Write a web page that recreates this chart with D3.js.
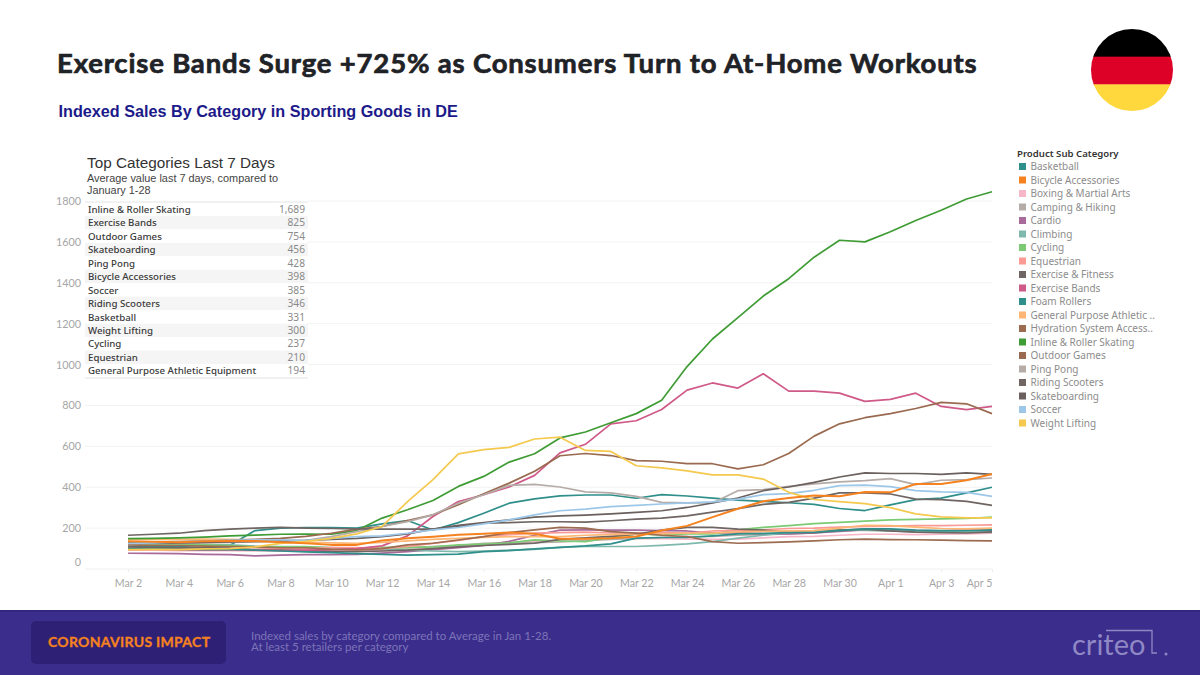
<!DOCTYPE html>
<html><head><meta charset="utf-8">
<script src="https://cdn.jsdelivr.net/npm/d3@7"></script>
<style>
html,body{margin:0;padding:0;background:#fff}
svg{display:block}
text{font-family:"Lato",sans-serif}
</style></head><body>
<svg id="c" width="1200" height="675"></svg>
<script>
const startDate = "2020-03-02";
const yTicks = [0,200,400,600,800,1000,1200,1400,1600,1800];
const xTickDays = ["2020-03-02","2020-03-04","2020-03-06","2020-03-08","2020-03-10","2020-03-12","2020-03-14","2020-03-16","2020-03-18","2020-03-20","2020-03-22","2020-03-24","2020-03-26","2020-03-28","2020-03-30","2020-04-01","2020-04-03","2020-04-05"];

const categories = ["Basketball","Bicycle Accessories","Boxing & Martial Arts","Camping & Hiking","Cardio","Climbing","Cycling","Equestrian","Exercise & Fitness","Exercise Bands","Foam Rollers","General Purpose Athletic ..","Hydration System Access..","Inline & Roller Skating","Outdoor Games","Ping Pong","Riding Scooters","Skateboarding","Soccer","Weight Lifting"];
const colors = ["#2f8f8a","#f5821f","#f7b6c8","#b5aca8","#a86a9b","#7fb8ac","#7ccb74","#fb9a94","#6f6563","#cf5a88","#2f8f8a","#fdb674","#9c6b50","#3f9c35","#9a6a50","#b5aca8","#6f6563","#6a605e","#9dc7e8","#f4c94e"];

const basketball = [110,108,110,105,115,188,200,203,203,200,221,237,191,227,273,322,343,358,362,362,346,364,357,347,337,331,324,316,296,286,314,339,347,372,400];
const bicycle = [136,133,131,136,137,137,131,126,118,118,139,150,158,167,172,178,172,148,148,151,159,188,211,254,295,331,347,359,356,377,375,416,416,434,465];
const boxing = [92,92,90,90,90,88,90,90,88,88,90,95,100,112,122,130,135,140,146,148,150,148,146,145,146,152,158,160,165,170,170,168,170,172,175];
const camping = [100,102,100,98,98,96,100,104,100,100,102,105,110,115,125,128,129,132,139,145,150,154,158,160,165,168,172,176,186,190,186,182,180,180,178];
const cardio = [77,76,75,72,70,64,68,70,70,72,78,85,95,105,115,135,165,190,191,190,190,188,186,176,178,172,172,176,184,192,190,188,186,190,190];
const climbing = [120,118,120,118,118,112,110,108,105,102,98,92,88,85,88,92,96,106,110,110,110,116,123,134,151,165,178,188,192,190,186,184,182,180,183];
const cycling = [125,122,120,118,115,108,108,110,104,102,106,105,108,118,122,128,142,137,134,155,172,167,172,172,191,204,212,222,228,234,240,243,245,247,254];
const equestrian = [95,95,92,92,94,96,100,100,105,105,100,110,125,140,158,168,175,178,180,176,175,178,175,186,188,192,198,200,205,208,210,212,212,214,216];
const fitness = [108,105,104,104,102,92,92,90,86,85,88,92,100,108,115,120,126,145,152,160,170,190,204,204,195,190,180,178,190,195,186,180,178,176,182];
const bands = [100,98,97,95,96,93,90,92,95,100,113,162,257,330,363,401,458,568,610,710,725,780,875,910,885,955,870,870,860,820,830,860,795,780,795];
const foam = [100,98,96,95,96,92,88,84,80,75,72,68,70,73,85,90,98,106,113,123,151,154,154,162,172,174,178,180,188,196,196,190,188,188,191];
const generalPurpose = [145,146,145,146,145,142,138,132,128,125,130,138,145,150,155,158,158,158,165,168,172,172,176,176,182,184,186,188,200,214,212,205,198,196,200];
const hydration = [118,116,115,112,110,108,104,104,96,94,100,118,126,142,158,178,191,204,200,183,175,165,159,134,126,129,133,138,143,146,144,143,141,139,138];
const inline = [149,150,152,156,162,166,170,171,170,188,249,290,335,404,453,523,564,641,670,715,760,825,990,1125,1230,1335,1420,1525,1608,1600,1650,1705,1755,1810,1845];
const outdoor = [132,133,134,136,140,145,150,160,175,195,208,237,265,314,368,420,478,554,565,555,530,527,515,515,490,510,565,650,710,740,760,785,815,808,760];
const pingpong = [125,125,125,128,130,132,135,140,158,183,208,232,265,322,363,409,414,401,377,372,355,326,323,323,383,388,404,416,426,432,442,413,434,437,445];
const scooters = [165,170,175,188,195,200,204,200,198,196,195,195,195,208,224,227,231,231,229,236,244,249,260,278,295,316,326,347,372,372,367,342,339,331,311];
const skate = [128,126,128,130,132,135,138,140,145,150,158,172,195,213,227,240,254,260,264,270,277,285,301,323,347,383,401,424,450,470,467,467,463,470,463];
const soccer = [125,128,132,138,140,142,142,140,150,158,162,175,191,203,221,240,265,285,293,305,311,318,323,328,342,364,369,385,408,410,403,383,377,375,355];
const weight = [95,96,95,98,100,108,125,135,150,172,208,330,437,563,584,595,636,645,580,575,505,495,480,460,460,440,375,340,330,320,300,270,255,250,250];
const seriesValues = [basketball,bicycle,boxing,camping,cardio,climbing,cycling,equestrian,fitness,bands,foam,generalPurpose,hydration,inline,outdoor,pingpong,scooters,skate,soccer,weight];

const tableNames = ["Inline & Roller Skating","Exercise Bands","Outdoor Games","Skateboarding","Ping Pong","Bicycle Accessories","Soccer","Riding Scooters","Basketball","Weight Lifting","Cycling","Equestrian","General Purpose Athletic Equipment"];
const tableValues = ["1,689","825","754","456","428","398","385","346","331","300","237","210","194"];

const flagColors = ["#000000","#dd0027","#ffd83d"];

const svg = d3.select("#c");
const parse = d3.timeParse("%Y-%m-%d");
const fmt = d3.timeFormat("%b %-d");
const t0 = parse(startDate);
const dateOf = i => d3.timeDay.offset(t0,i);
const x = d3.scaleTime().domain([t0,dateOf(34)]).range([128,992]);
const y = d3.scaleLinear().domain([0,1800]).range([569,201]);

// title
svg.append("text").attr("x",57).attr("y",73).attr("font-size",27.5).attr("font-weight",700)
  .attr("fill","#1f2226").attr("stroke","#1f2226").attr("stroke-width",0.7)
  .style("font-family","Lato").style("letter-spacing","0.82px")
  .text("Exercise Bands Surge +725% as Consumers Turn to At-Home Workouts");
svg.append("text").attr("x",58.5).attr("y",117).attr("font-size",16.2).attr("font-weight",700)
  .attr("fill","#1c1a8a").style("font-family","Liberation Sans")
  .text("Indexed Sales By Category in Sporting Goods in DE");

// flag
const defs = svg.append("defs");
defs.append("clipPath").attr("id","fc").append("circle").attr("cx",1132).attr("cy",70).attr("r",41);
const flagY = d3.scaleBand().domain(flagColors).range([29,112]);
svg.append("g").attr("clip-path","url(#fc)").selectAll("rect").data(flagColors).join("rect")
  .attr("x",1091).attr("width",82).attr("y",d=>flagY(d)).attr("height",flagY.bandwidth()+0.5).attr("fill",d=>d);

// grid
svg.append("g").selectAll("line").data(yTicks.slice(1)).join("line")
  .attr("x1",85).attr("x2",992).attr("y1",d=>y(d)).attr("y2",d=>y(d)).attr("stroke","#f2f2f2");

// y axis
const yAxis = d3.axisLeft(y).tickValues(yTicks).tickSize(0).tickPadding(0).tickFormat(d3.format("d"));
const gy = svg.append("g").attr("transform","translate(81,0)").call(yAxis);
gy.select(".domain").remove();
gy.selectAll("text").attr("fill","#a6a6a6").attr("font-size",10.8).style("font-family","Lato")
  .attr("dy",d=>d===0?"-0.32em":"0.32em");

// x axis
const xAxis = d3.axisBottom(x).tickValues(xTickDays.map(parse)).tickSize(3).tickPadding(7).tickFormat(fmt);
const gx = svg.append("g").attr("transform","translate(0,569)").call(xAxis);
gx.select(".domain").attr("stroke","#eeeeee").attr("d","M85,0H992");
gx.selectAll("line").attr("stroke","#eeeeee");
gx.selectAll("text").attr("fill","#a6a6a6").attr("font-size",10.6).style("font-family","Lato")
  .attr("dx",(d,i)=>i===xTickDays.length-1?-13:0);

// lines
const line = d3.line().x((d,i)=>x(dateOf(i))).y(d=>y(d)).curve(d3.curveLinear);
const paths = svg.append("g").attr("fill","none").selectAll("path").data(seriesValues).join("path")
  .attr("d",line).attr("stroke",(d,i)=>colors[i]).attr("stroke-width",1.7).attr("stroke-linejoin","round");
paths.filter((d,i)=>categories[i]==="Bicycle Accessories").attr("stroke-width",2).raise();

// table
const tableG = svg.append("g");
tableG.append("rect").attr("x",85).attr("y",145).attr("width",223).attr("height",233).attr("fill","#fff");
tableG.append("text").attr("x",87).attr("y",168).attr("font-size",15.3).attr("fill","#333").style("font-family","Liberation Sans").text("Top Categories Last 7 Days");
tableG.append("text").attr("x",87).attr("y",182).attr("font-size",10.9).attr("fill","#444").style("font-family","Liberation Sans").text("Average value last 7 days, compared to");
tableG.append("text").attr("x",87).attr("y",194).attr("font-size",10.9).attr("fill","#444").style("font-family","Liberation Sans").text("January 1-28");
const rowY = d3.scaleBand().domain(tableNames).range([202.5,377.5]);
tableG.selectAll(".bg").data(tableNames).join("rect").attr("class","bg")
  .attr("x",85).attr("width",223).attr("y",d=>rowY(d)).attr("height",rowY.bandwidth())
  .attr("fill",(d,i)=>i%2?"#f5f5f5":"#fff");
tableG.append("line").attr("x1",85).attr("x2",308).attr("y1",202).attr("y2",202).attr("stroke","#e4e4e4");
tableG.append("line").attr("x1",85).attr("x2",308).attr("y1",378).attr("y2",378).attr("stroke","#e4e4e4");
tableG.selectAll(".nm").data(tableNames).join("text").attr("class","nm")
  .attr("x",88).attr("y",d=>rowY(d)+rowY.bandwidth()/2+3.6).attr("font-size",9.7).attr("font-weight",500)
  .attr("fill","#3a3a3a").style("font-family","Noto Sans").text(d=>d);
tableG.selectAll(".vl").data(tableValues).join("text").attr("class","vl")
  .attr("x",305).attr("text-anchor","end").attr("y",(d,i)=>rowY(tableNames[i])+rowY.bandwidth()/2+3.6)
  .attr("font-size",10.2).attr("fill","#8a8a8a").style("font-family","Noto Sans").text(d=>d);

// legend
const lg = svg.append("g");
lg.append("text").attr("x",1017).attr("y",157).attr("font-size",9.6).attr("font-weight",600).attr("fill","#333").style("font-family","Noto Sans").text("Product Sub Category");
const legY = d3.scaleBand().domain(categories).range([160,430]);
lg.selectAll("rect").data(categories).join("rect")
  .attr("x",1019).attr("width",7).attr("height",7).attr("y",d=>legY(d)+3).attr("fill",(d,i)=>colors[i]);
lg.selectAll(".lt").data(categories).join("text").attr("class","lt")
  .attr("x",1030.5).attr("y",d=>legY(d)+10.2).attr("font-size",10).attr("fill","#8c8c8c").style("font-family","Noto Sans").text(d=>d);

// footer
svg.append("rect").attr("x",0).attr("y",610).attr("width",1200).attr("height",65).attr("fill","#3a2d8c");
svg.append("rect").attr("x",0).attr("y",610).attr("width",1200).attr("height",1.5).attr("fill","#31257d");
svg.append("rect").attr("x",31).attr("y",621).attr("width",195).attr("height",43).attr("rx",5).attr("fill","#2e2075");
svg.append("text").attr("x",48).attr("y",647).attr("font-size",14).attr("font-weight",700).attr("fill","#f58220").attr("stroke","#f58220").attr("stroke-width",0.3).style("font-family","Lato").style("letter-spacing","0.3px").text("CORONAVIRUS IMPACT");
svg.append("text").attr("x",251).attr("y",640).attr("font-size",11.5).attr("fill","#7d74b8").style("font-family","Lato").text("Indexed sales by category compared to Average in Jan 1-28.");
svg.append("text").attr("x",251).attr("y",651).attr("font-size",11.5).attr("fill","#7d74b8").style("font-family","Lato").text("At least 5 retailers per category");
svg.append("text").attr("x",1072).attr("y",655).attr("font-size",29).attr("font-weight",400).attr("fill","#8f88c4").style("font-family","Lato").text("criteo");
svg.append("path").attr("d","M1106,630.5H1152V653H1157").attr("fill","none").attr("stroke","#8f88c4").attr("stroke-width",1.3);
svg.append("circle").attr("cx",1166).attr("cy",654).attr("r",1.5).attr("fill","#8f88c4");
</script>
</body></html>
